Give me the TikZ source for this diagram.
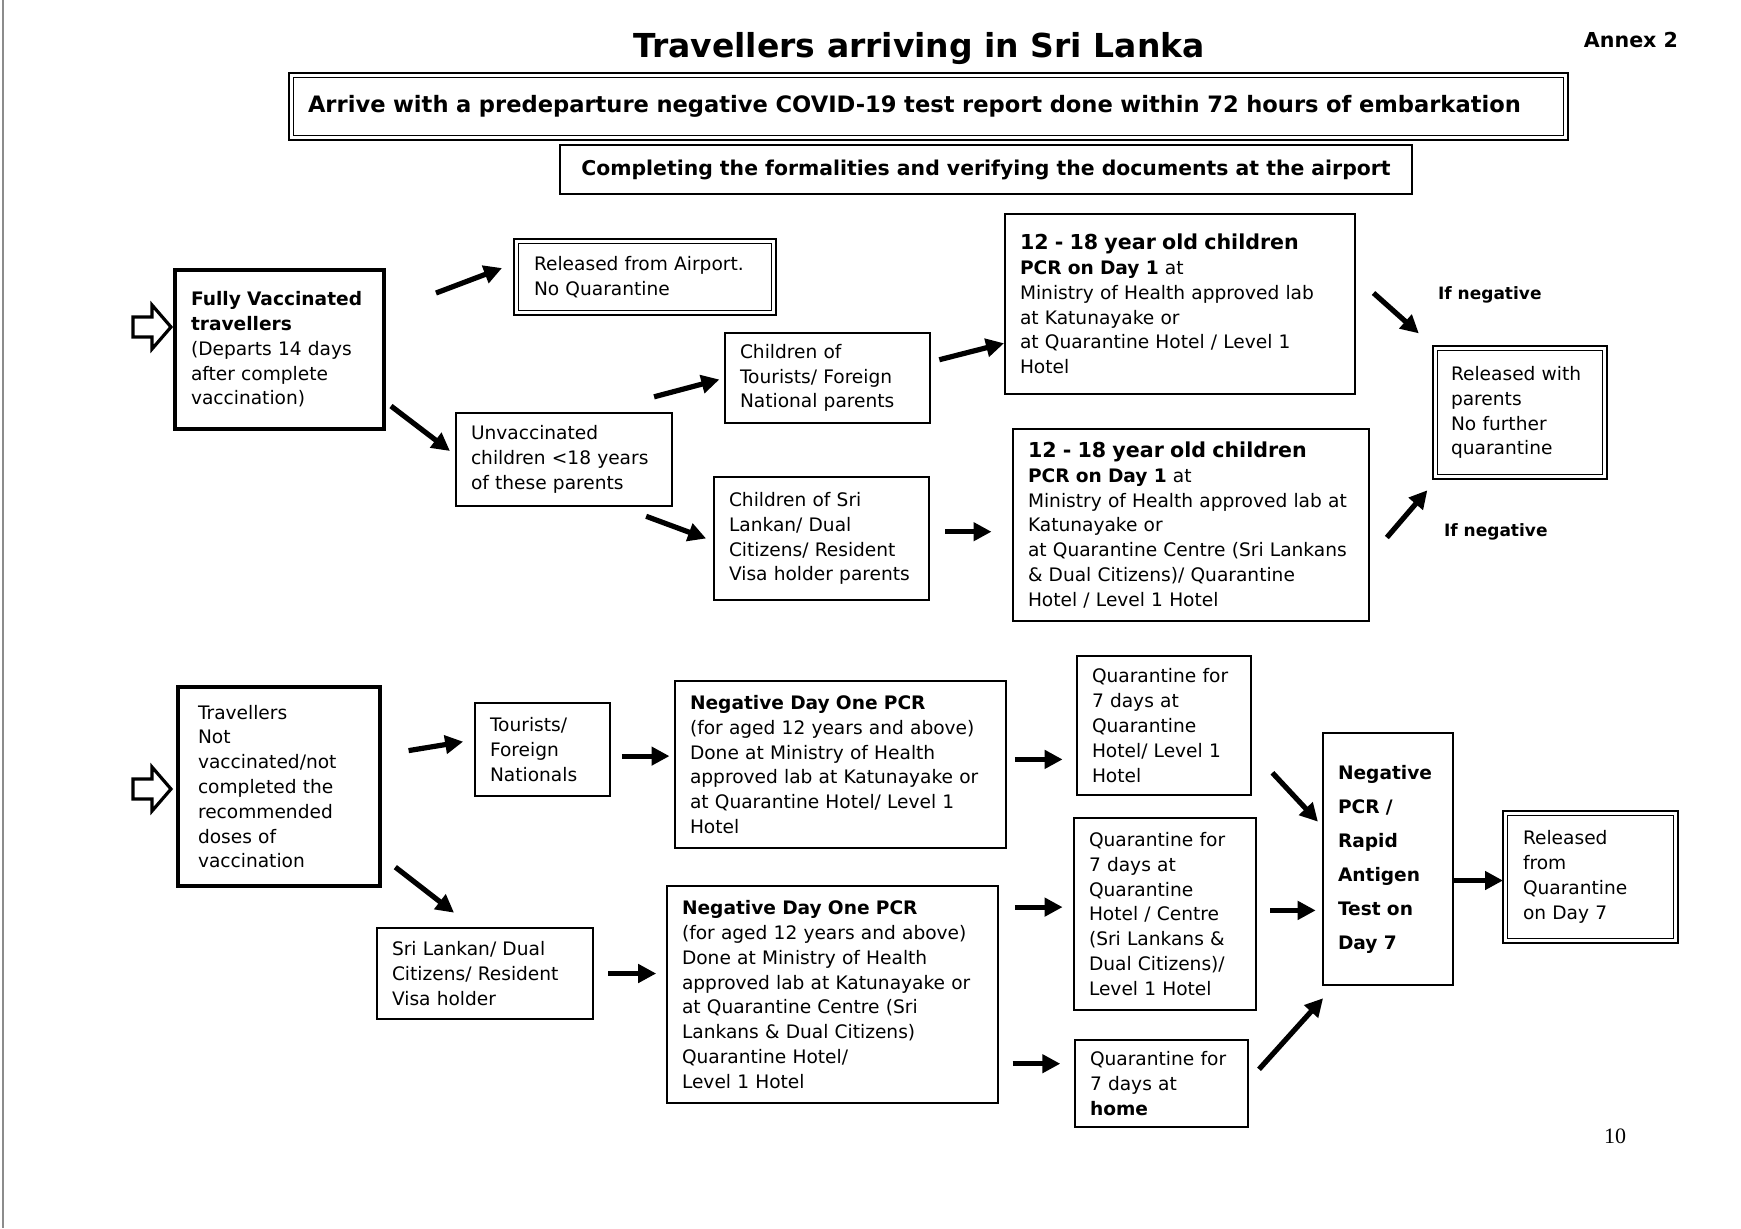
\documentclass[tikz,border=0pt]{standalone}
\usepackage{fontspec}
\setmainfont{DejaVu Sans}
\newfontfamily\pagenumfont{Liberation Serif}
\usetikzlibrary{arrows.meta}

\newcommand{\agehead}{\fontsize{10.3}{12.4}\selectfont\bfseries}

\begin{document}
\begin{tikzpicture}[x=0.5pt, y=-0.5pt,
    txt/.style={font=\fontsize{9.3}{12.4}\selectfont},
    box/.style={draw, line width=0.7pt, txt, align=left, anchor=north west,
        inner xsep=7.5pt, inner ysep=2pt, outer sep=0pt},
    bigbox/.style={box, line width=2pt, inner xsep=8pt},
    dblbox/.style={box, line width=0.9pt, inner xsep=10pt},
    arr/.style={line width=2.6pt, -{Triangle[length=9pt, width=9pt]}},
    openarr/.style={line width=1.6pt, line join=miter},
    lbl/.style={font=\fontsize{8.5}{11}\selectfont\bfseries, anchor=west},
]
    \useasboundingbox (0,0) rectangle (1741,1228);

    % scanned page edge
    \draw[black!45, line width=0.8pt] (3,0) -- (3,1228);

    % ================= header =================
    \node[font=\fontsize{16.5}{20}\selectfont\bfseries] (title) at (919,49) {Travellers arriving in Sri Lanka};
    \node[font=\fontsize{10.3}{12}\selectfont\bfseries] (annex) at (1631,40) {Annex 2};

    \node[dblbox, minimum width=639.5pt, minimum height=33.5pt, text width=620.5pt, inner xsep=9.5pt,
        font=\fontsize{11.3}{13}\selectfont\bfseries] (arrive) at (289,73)
        {Arrive with a predeparture negative COVID-19 test report done within 72 hours of embarkation};
    \node[box, align=center, minimum width=426pt, minimum height=24.5pt,
        font=\fontsize{10.2}{12}\selectfont\bfseries] (formal) at (560,145)
        {Completing the formalities and verifying the documents at the airport};

    % ================= fully vaccinated =================
    \node[bigbox, minimum width=104.5pt, minimum height=79.5pt, text width=88.5pt] (fv) at (175,270)
        {\textbf{Fully Vaccinated}\\\textbf{travellers}\\(Departs 14 days\\after complete\\vaccination)};
    \node[dblbox, minimum width=131pt, minimum height=38pt, text width=111pt] (relair) at (514,239)
        {Released from Airport.\\No Quarantine};
    \node[box, minimum width=108pt, minimum height=46.5pt, text width=93pt] (unvacc) at (456,413)
        {Unvaccinated\\children <18 years\\of these parents};
    \node[box, minimum width=102.5pt, minimum height=45pt, text width=87.5pt] (chtour) at (725,333)
        {Children of\\Tourists/ Foreign\\National parents};
    \node[box, minimum width=107.5pt, minimum height=61.5pt, text width=92.5pt] (chsl) at (714,477)
        {Children of Sri\\Lankan/ Dual\\Citizens/ Resident\\Visa holder parents};
    \node[box, minimum width=175pt, minimum height=90pt, text width=160pt] (pcrtop) at (1005,214)
        {{\agehead 12 - 18 year old children}\\\textbf{PCR on Day 1} at\\Ministry of Health approved lab\\at Katunayake or\\at Quarantine Hotel / Level 1\\Hotel};
    \node[box, minimum width=178pt, minimum height=96pt, text width=163pt] (pcrbot) at (1013,429)
        {{\agehead 12 - 18 year old children}\\\textbf{PCR on Day 1} at\\Ministry of Health approved lab at\\Katunayake or\\at Quarantine Centre (Sri Lankans\\\& Dual Citizens)/ Quarantine\\Hotel / Level 1 Hotel};
    \node[dblbox, minimum width=87pt, minimum height=66.5pt, text width=69pt, inner xsep=9pt] (relpar) at (1433,346)
        {Released with\\parents\\No further\\quarantine};
    \node[lbl] (ifneg1) at (1431,295) {If negative};
    \node[lbl] (ifneg2) at (1437,532) {If negative};

    % ================= not vaccinated =================
    \node[bigbox, minimum width=101pt, minimum height=99.5pt, text width=81pt, inner xsep=10pt] (tnv) at (178,687)
        {Travellers\\Not\\vaccinated/not\\completed the\\recommended\\doses of\\vaccination};
    \node[box, minimum width=67.5pt, minimum height=46.5pt, text width=52.5pt] (tour) at (475,703)
        {Tourists/\\Foreign\\Nationals};
    \node[box, minimum width=108pt, minimum height=45.5pt, text width=93pt] (slr) at (377,928)
        {Sri Lankan/ Dual\\Citizens/ Resident\\Visa holder};
    \node[box, minimum width=165.5pt, minimum height=83.5pt, text width=150.5pt] (neg1) at (675,681)
        {\textbf{Negative Day One PCR}\\(for aged 12 years and above)\\Done at Ministry of Health\\approved lab at Katunayake or\\at Quarantine Hotel/ Level 1\\Hotel};
    \node[box, minimum width=165.5pt, minimum height=108.5pt, text width=150.5pt] (neg2) at (667,886)
        {\textbf{Negative Day One PCR}\\(for aged 12 years and above)\\Done at Ministry of Health\\approved lab at Katunayake or\\at Quarantine Centre (Sri\\Lankans \& Dual Citizens)\\Quarantine Hotel/\\Level 1 Hotel};
    \node[box, minimum width=87pt, minimum height=69.5pt, text width=72pt] (q1) at (1077,656)
        {Quarantine for\\7 days at\\Quarantine\\Hotel/ Level 1\\Hotel};
    \node[box, minimum width=91pt, minimum height=96pt, text width=76pt] (q2) at (1074,818)
        {Quarantine for\\7 days at\\Quarantine\\Hotel / Centre\\(Sri Lankans \&\\Dual Citizens)/\\Level 1 Hotel};
    \node[box, minimum width=86.5pt, minimum height=43.5pt, text width=71.5pt] (q3) at (1075,1040)
        {Quarantine for\\7 days at\\\textbf{home}};
    \node[box, minimum width=65pt, minimum height=126pt, text width=50pt,
        font=\fontsize{9.3}{17}\selectfont\bfseries] (negrap) at (1323,733)
        {Negative\\PCR /\\Rapid\\Antigen\\Test on\\Day 7};
    \node[dblbox, minimum width=87.5pt, minimum height=66pt, text width=67.5pt] (relq) at (1503,811)
        {Released\\from\\Quarantine\\on Day 7};

    % inner frame of the double boxes
    \foreach \n in {arrive, relair, relpar, relq}
        \draw[line width=0.7pt] ([shift={(2.2pt,-2.2pt)}]\n.north west) rectangle ([shift={(-2.2pt,2.2pt)}]\n.south east);

    % open arrows on the left
    \foreach \dy in {0,462}
        \draw[openarr] (133,317+\dy) -- (152,317+\dy) -- (152,305+\dy) -- (171,327+\dy)
            -- (152,349+\dy) -- (152,337+\dy) -- (133,337+\dy) -- cycle;

    % ================= arrows, upper part =================
    \draw[arr, shorten <=27.8pt, shorten >=6.4pt] ([yshift=18.4pt]fv.east) -- ([yshift=6.75pt]relair.west);
    \draw[arr, shorten <=4.4pt, shorten >=3.8pt] ([yshift=-25.6pt]fv.east) -- ([yshift=1.95pt]unvacc.west);
    \draw[arr, shorten <=31.6pt, shorten >=2.9pt] ([xshift=14.5pt]unvacc.north) -- (chtour.west);
    \draw[arr, shorten <=14.8pt, shorten >=4.2pt] ([xshift=27.2pt]unvacc.south) -- ([yshift=-1.45pt]chsl.west);
    \draw[arr, shorten <=4.8pt, shorten >=0.5pt] ([yshift=7.95pt]chtour.east) -- ([yshift=-19.5pt]pcrtop.west);
    \draw[arr, shorten <=8pt, shorten >=10.75pt] ([yshift=3.4pt]chsl.east) -- ([yshift=3.4pt]chsl.east -| pcrbot.west);
    \draw[arr, shorten <=12.4pt, shorten >=9.5pt] ([yshift=13.75pt]pcrtop.east) -- (relpar.north west);
    \draw[arr, shorten <=13.7pt, shorten >=7.4pt] ([yshift=-16.65pt]pcrbot.east) -- ([xshift=2pt]relpar.south west);

    % ================= arrows, lower part =================
    \draw[arr, shorten <=14.5pt, shorten >=6pt] ([yshift=15.6pt]tnv.east) -- ([yshift=4.9pt]tour.west);
    \draw[arr, shorten <=9.7pt, shorten >=12.5pt] ([yshift=-34.35pt]tnv.east) -- ([xshift=-5.6pt]slr.north);
    \draw[arr, shorten <=5.9pt, shorten >=2.75pt] ([yshift=-3.3pt]tour.east) -- ([yshift=-3.3pt]tour.east -| neg1.west);
    \draw[arr, shorten <=7.7pt, shorten >=5.4pt] (slr.east) -- (slr.east -| neg2.west);
    \draw[arr, shorten <=4.4pt, shorten >=7.2pt] ([yshift=2.55pt]neg1.east) -- ([yshift=2.55pt]neg1.east -| q1.west);
    \draw[arr, shorten <=8.4pt, shorten >=5.7pt] ([yshift=43.7pt]neg2.east) -- ([yshift=43.7pt]neg2.east -| q2.west);
    \draw[arr, shorten <=7.3pt, shorten >=7.35pt] ([yshift=-34.6pt]neg2.east) -- ([yshift=-34.6pt]neg2.east -| q3.west);
    \draw[arr, shorten <=15.7pt, shorten >=3.7pt] ([yshift=-12.15pt]q1.east) -- ([yshift=15.95pt]negrap.west);
    \draw[arr, shorten <=7.1pt, shorten >=3.65pt] ([yshift=1.8pt]q2.east) -- ([yshift=1.8pt]q2.east -| negrap.west);
    \draw[arr, shorten <=8.25pt, shorten >=8.9pt] ([yshift=1pt]q3.east) -- ([xshift=6pt]negrap.south west);
    \draw[arr] ([yshift=-10.75pt]negrap.east) -- ([yshift=-10.75pt]negrap.east -| relq.west);

    % page number
    \node[font=\pagenumfont\fontsize{11}{13}\selectfont] (pagenum) at (1615,1136) {10};
\end{tikzpicture}
\end{document}
